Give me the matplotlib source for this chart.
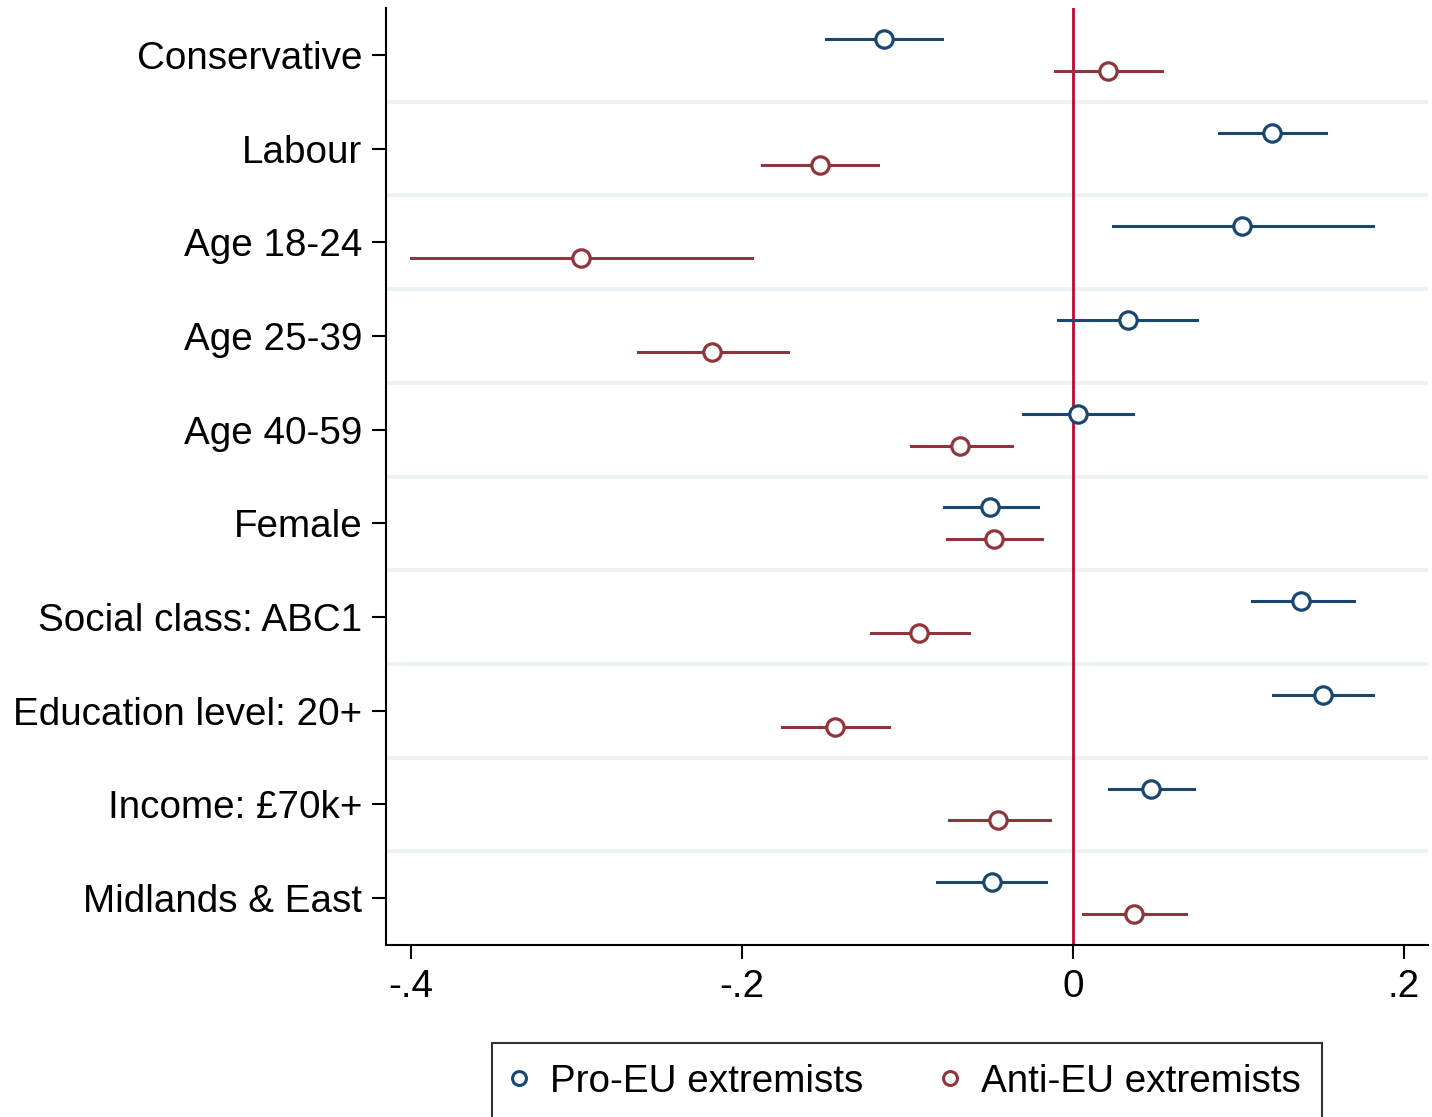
import matplotlib.pyplot as plt
from matplotlib.lines import Line2D

# Coefficients and 95% intervals for each characteristic
labels = ['Conservative', 'Labour', 'Age 18-24', 'Age 25-39', 'Age 40-59', 'Female',
          'Social class: ABC1', 'Education level: 20+', 'Income: £70k+', 'Midlands & East']

pro_coef = [-0.114, 0.120, 0.102, 0.033, 0.003, -0.050, 0.138, 0.151, 0.047, -0.049]
pro_lo = [-0.149, 0.088, 0.024, -0.009, -0.030, -0.078, 0.108, 0.121, 0.022, -0.082]
pro_hi = [-0.079, 0.153, 0.181, 0.075, 0.036, -0.021, 0.170, 0.181, 0.073, -0.016]

anti_coef = [0.021, -0.153, -0.297, -0.218, -0.068, -0.048, -0.093, -0.144, -0.045, 0.037]
anti_lo = [-0.011, -0.188, -0.400, -0.263, -0.098, -0.076, -0.122, -0.176, -0.075, 0.006]
anti_hi = [0.054, -0.118, -0.194, -0.172, -0.037, -0.019, -0.063, -0.111, -0.014, 0.068]

xticks = [-0.4, -0.2, 0, 0.2]
xtick_labels = ['-.4', '-.2', '0', '.2']

blue = '#1a476f'
red = '#90353b'

plt.rcParams['font.family'] = ['Liberation Sans', 'DejaVu Sans']
fs = 27.8

fig = plt.figure(figsize=(14.32, 11.17), dpi=100)
ax = fig.add_axes([0.2696, 0.154, 0.7276, 0.8388])

n = len(labels)
ypos = list(range(n))
off = 0.17

# light separators between groups
for i in range(n - 1):
    ax.axhline(i + 0.5, color='#eaf2f3', lw=2.6, zorder=0)

ax.axvline(0, color='#c10534', lw=2.0, zorder=1)

for i in range(n):
    ax.plot([pro_lo[i], pro_hi[i]], [i - off, i - off], color=blue, lw=2.2, zorder=2)
    ax.plot([anti_lo[i], anti_hi[i]], [i + off, i + off], color=red, lw=2.2, zorder=2)

ax.plot(pro_coef, [y - off for y in ypos], 'o', ms=12.5, mfc='white', mec=blue, mew=2.3,
        ls='none', zorder=3)
ax.plot(anti_coef, [y + off for y in ypos], 'o', ms=12.5, mfc='white', mec=red, mew=2.3,
        ls='none', zorder=3)

ax.set_xlim(-0.415, 0.2145)
ax.set_ylim(n - 0.5, -0.5)
ax.set_yticks(ypos)
ax.set_yticklabels(labels, fontsize=fs)
ax.set_xticks(xticks)
ax.set_xticklabels(xtick_labels, fontsize=fs)
ax.tick_params(axis='both', length=10, width=1.5, pad=7)

for s in ['top', 'right']:
    ax.spines[s].set_visible(False)
for s in ['left', 'bottom']:
    ax.spines[s].set_linewidth(1.5)

handles = [Line2D([], [], marker='o', ls='none', ms=10, mfc='white', mec=blue, mew=2.2),
           Line2D([], [], marker='o', ls='none', ms=10, mfc='white', mec=red, mew=2.2)]
leg = fig.legend(handles, ['Pro-EU extremists', 'Anti-EU extremists'], loc='center',
                 bbox_to_anchor=(0.6334, (1117 - 1082) / 1117), ncol=2, fontsize=fs,
                 frameon=True, fancybox=False, edgecolor='black', borderpad=0.55,
                 handlelength=0.3, handletextpad=0.65, columnspacing=2.1,
                 borderaxespad=0)
leg.get_frame().set_linewidth(1.5)

fig.savefig('out.png', dpi=100)
